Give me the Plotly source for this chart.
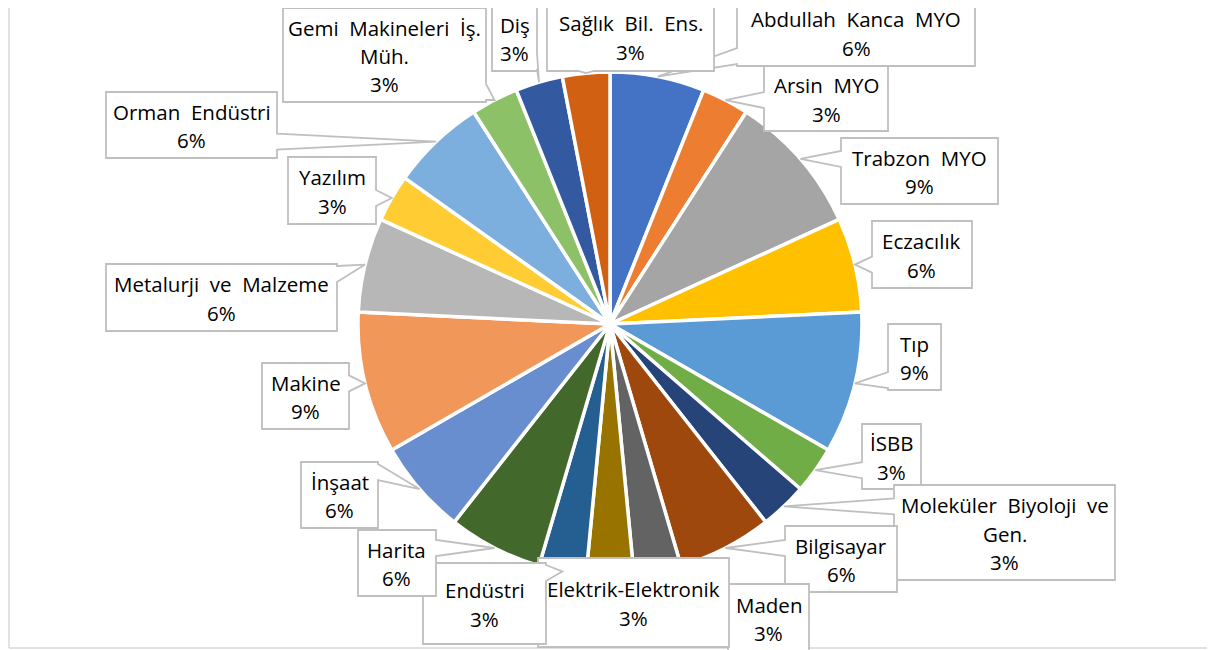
import math
import plotly.graph_objects as go

# ---------------- data ----------------
categories = ["Abdullah Kanca MYO", "Arsin MYO", "Trabzon MYO", "Eczacılık", "Tıp",
              "İSBB", "Moleküler Biyoloji ve Gen.", "Bilgisayar", "Maden",
              "Elektrik-Elektronik", "Endüstri", "Harita", "İnşaat", "Makine",
              "Metalurji ve Malzeme", "Yazılım", "Orman Endüstri",
              "Gemi Makineleri İş. Müh.", "Diş", "Sağlık Bil. Ens."]
counts = [2, 1, 3, 2, 3, 1, 1, 2, 1, 1, 1, 2, 2, 3, 2, 1, 2, 1, 1, 1]
label_lines = [["Abdullah Kanca MYO"], ["Arsin MYO"], ["Trabzon MYO"], ["Eczacılık"], ["Tıp"],
               ["İSBB"], ["Moleküler Biyoloji ve", "Gen."], ["Bilgisayar"], ["Maden"],
               ["Elektrik-Elektronik"], ["Endüstri"], ["Harita"], ["İnşaat"], ["Makine"],
               ["Metalurji ve Malzeme"], ["Yazılım"], ["Orman Endüstri"],
               ["Gemi Makineleri İş.", "Müh."], ["Diş"], ["Sağlık Bil. Ens."]]
colors = ["#4472C4", "#ED7D31", "#A5A5A5", "#FFC000", "#5B9BD5", "#70AD47", "#264478",
          "#9E480E", "#636363", "#997300", "#255E91", "#43682B", "#698ED0", "#F1975A",
          "#B7B7B7", "#FFCD33", "#7CAFDD", "#8CC168", "#335AA1", "#D26012"]

# ---------------- layout (pixels of the final screenshot) ----------------
W, H = 1215, 650
OFF = 8  # default page body margin
CX, CY, R = 610, 324, 252
# label boxes (x0, y0, x1, y1) in pixels
boxes = [(737, 0, 975, 66), (764, 66, 888, 131), (841, 138, 998, 204), (872, 221, 972, 288),
         (888, 324, 941, 390), (862, 424, 921, 489), (894, 485, 1115, 580),
         (785, 526, 897, 592), (728, 584, 809, 652), (538, 558, 729, 647),
         (423, 563, 546, 644), (358, 530, 436, 596), (301, 462, 378, 528),
         (262, 363, 349, 429), (106, 264, 337, 331), (288, 157, 376, 224),
         (106, 92, 277, 158), (283, 8, 486, 102), (492, 5, 537, 71), (547, 2, 714, 71)]
no_wedge = {"Maden", "Elektrik-Elektronik"}
base_override = {"İnşaat": 472}
FONT = "Open Sans"
FSIZE = 20.5


def px(x):
    return (x - OFF) / W


def py(y):
    return 1 - (y - OFF) / H


total = sum(counts)
fig = go.Figure()
fig.add_trace(go.Pie(
    labels=categories, values=counts, sort=False, direction="clockwise", rotation=0,
    marker=dict(colors=colors, line=dict(color="white", width=3.5)),
    textinfo="none", hoverinfo="label+percent", showlegend=False,
    domain=dict(x=[px(CX - R), px(CX + R)], y=[py(CY + R), py(CY - R)]),
))

border = dict(color="#D9D9D9", width=1.5)
shapes = [
    dict(type="line", xref="paper", yref="paper", x0=px(9), x1=px(9), y0=py(648), y1=py(8), line=border, layer="below"),
    dict(type="line", xref="paper", yref="paper", x0=px(1213), x1=px(1213), y0=py(648), y1=py(8), line=border, layer="below"),
    dict(type="line", xref="paper", yref="paper", x0=px(9), x1=px(1213), y0=py(648), y1=py(648), line=border, layer="below"),
]
annotations = []

HW = 8  # wedge half-width
cum = 0
for name, v, lines, (x0, y0, x1, y1) in zip(categories, counts, label_lines, boxes):
    a = math.radians((cum + v / 2) / total * 360)
    cum += v
    tx, ty = CX + R * math.sin(a), CY - R * math.cos(a)
    pts = None
    if name not in no_wedge:
        if tx < x0:
            c = base_override.get(name, ty)
            c = min(max(c, y0 + HW + 2), y1 - HW - 2)
            pts = [(x0, y0), (x1, y0), (x1, y1), (x0, y1), (x0, c + HW), (tx, ty), (x0, c - HW)]
        elif tx > x1:
            c = base_override.get(name, ty)
            c = min(max(c, y0 + HW + 2), y1 - HW - 2)
            pts = [(x0, y0), (x1, y0), (x1, c - HW), (tx, ty), (x1, c + HW), (x1, y1), (x0, y1)]
        elif ty < y0:
            c = min(max(tx, x0 + HW + 2), x1 - HW - 2)
            pts = [(x0, y0), (c - HW, y0), (tx, ty), (c + HW, y0), (x1, y0), (x1, y1), (x0, y1)]
        elif ty > y1:
            c = min(max(tx, x0 + HW + 2), x1 - HW - 2)
            pts = [(x0, y0), (x1, y0), (x1, y1), (c + HW, y1), (tx, ty), (c - HW, y1), (x0, y1)]
    if pts is None:
        pts = [(x0, y0), (x1, y0), (x1, y1), (x0, y1)]
    path = "M " + " L ".join(f"{px(x):.5f},{py(y):.5f}" for x, y in pts) + " Z"
    shapes.append(dict(type="path", xref="paper", yref="paper", path=path,
                       fillcolor="white", line=dict(color="#BFBFBF", width=1.8), layer="above"))
    pct = f"{round(v / total * 100)}%"
    all_lines = lines + [pct]
    n = len(all_lines)
    cy_txt = (y0 + y1) / 2 + 1
    step = 28.5
    for i, t in enumerate(all_lines):
        yy = cy_txt + (i - (n - 1) / 2) * step
        ann = dict(x=px((x0 + x1) / 2), y=py(yy), xref="paper", yref="paper",
                   text=t.replace(" ", "\u00a0 "), showarrow=False,
                   xanchor="center", yanchor="middle",
                   font=dict(family=FONT, size=FSIZE, color="#000000"))
        need = 2 * (yy - (OFF + 0.5))
        if need < 28:
            ann["height"] = need
        annotations.append(ann)

fig.update_layout(width=W, height=H, margin=dict(l=0, r=0, t=0, b=0),
                  paper_bgcolor="white", plot_bgcolor="white",
                  shapes=shapes, annotations=annotations)
fig.write_html("out.html")
